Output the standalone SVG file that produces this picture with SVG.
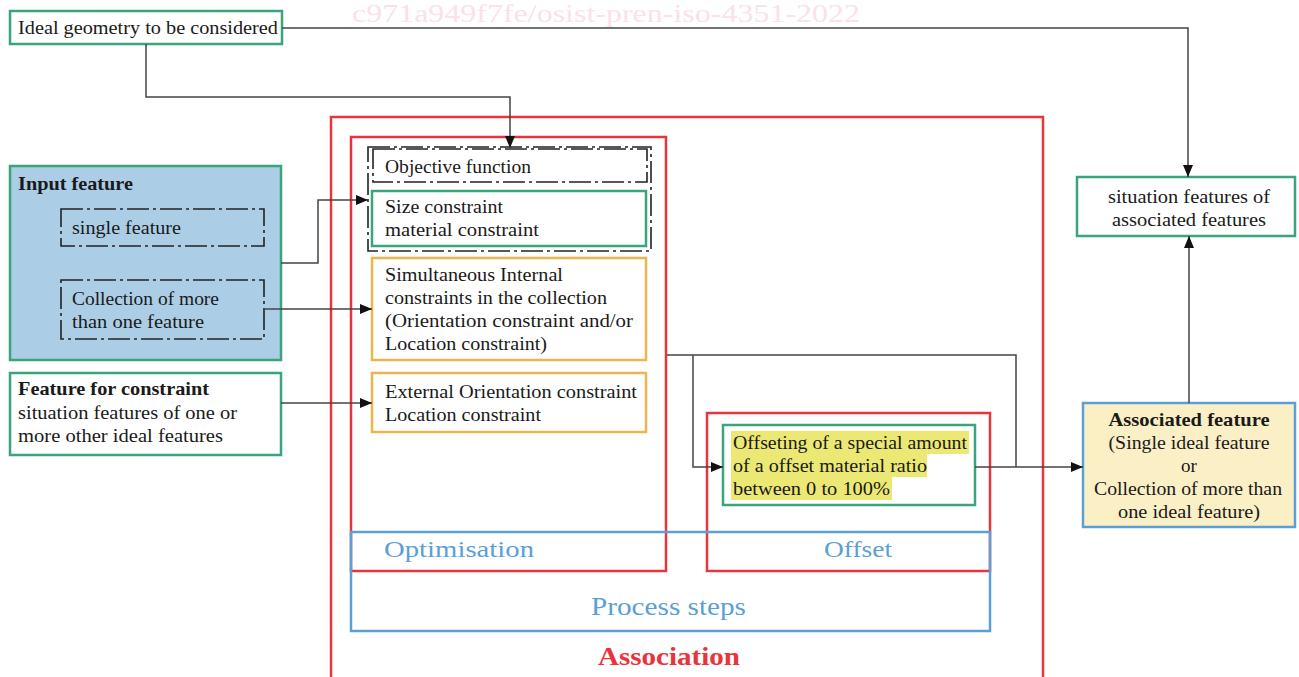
<svg xmlns="http://www.w3.org/2000/svg" width="1299" height="677" viewBox="0 0 1299 677">
<defs>
<marker id="arr" viewBox="0 0 12 10" refX="12" refY="5" markerWidth="12" markerHeight="10" markerUnits="userSpaceOnUse" orient="auto">
<path d="M0,0 L12,5 L0,10 Z" fill="#111"/>
</marker>
</defs>
<style>
text{font-family:"Liberation Serif","Times New Roman",serif;font-size:19px;fill:#1a1a1a}
.b{font-weight:bold}
.g{fill:#fff;stroke:#3aa57a;stroke-width:2.5}
.o{fill:#fff;stroke:#ebb54f;stroke-width:2.5}
.r{fill:none;stroke:#e8343a;stroke-width:2.5}
.bl{fill:none;stroke:#5b9fd6;stroke-width:2.5}
.dd{fill:none;stroke:#222;stroke-width:1.6;stroke-dasharray:22 4 3 4}
.c{fill:none;stroke:#444;stroke-width:1.5}
.blt{fill:#5b9fd6}
.wm{fill:#fbe1e8;font-size:26px}
.hl{fill:#ebe873}
</style>
<text class="wm" x="352" y="22" textLength="508" lengthAdjust="spacingAndGlyphs">c971a949f7fe/osist-pren-iso-4351-2022</text>

<g id="association">
<rect class="r" x="331" y="117" width="712" height="580"/>
<text x="669" y="665" text-anchor="middle" class="b" style="fill:#e8343a;font-size:26px" textLength="142" lengthAdjust="spacingAndGlyphs">Association</text>
</g>

<g id="optimisation">
<rect class="r" x="351" y="137" width="315" height="434"/>
</g>
<g id="offset">
<rect class="r" x="707" y="413" width="283" height="158"/>
</g>
<g id="process-steps">
<rect class="bl" x="351" y="532" width="639" height="99"/>
<text class="blt" x="384" y="557" style="font-size:24px" textLength="150" lengthAdjust="spacingAndGlyphs">Optimisation</text>
<text class="blt" x="824" y="557" style="font-size:24px" textLength="68" lengthAdjust="spacingAndGlyphs">Offset</text>
<text class="blt" x="591" y="615" style="font-size:25px" textLength="155" lengthAdjust="spacingAndGlyphs">Process steps</text>
</g>

<g id="ideal-geometry">
<rect class="g" x="10" y="11" width="272" height="33"/>
<text x="18" y="34" textLength="260" lengthAdjust="spacingAndGlyphs">Ideal geometry to be considered</text>
</g>

<g id="input-feature">
<rect class="g" x="10" y="166" width="271" height="194" style="fill:#abcde6"/>
<text x="18" y="190" class="b" textLength="115" lengthAdjust="spacingAndGlyphs">Input feature</text>
</g>
<g id="single-feature">
<rect class="dd" x="61" y="209" width="203" height="37"/>
<text x="72" y="234" textLength="109" lengthAdjust="spacingAndGlyphs">single feature</text>
</g>
<g id="collection-feature">
<rect class="dd" x="61" y="280" width="203" height="59"/>
<text x="72" y="305" textLength="147" lengthAdjust="spacingAndGlyphs">Collection of more</text>
<text x="72" y="328" textLength="132" lengthAdjust="spacingAndGlyphs">than one feature</text>
</g>

<g id="feature-for-constraint">
<rect class="g" x="10" y="373" width="271" height="82"/>
<text x="18" y="395" class="b" textLength="191" lengthAdjust="spacingAndGlyphs">Feature for constraint</text>
<text x="18" y="419" textLength="219" lengthAdjust="spacingAndGlyphs">situation features of one or</text>
<text x="18" y="442" textLength="205" lengthAdjust="spacingAndGlyphs">more other ideal features</text>
</g>

<g id="objective-group">
<rect class="dd" x="368" y="147" width="283" height="104"/>
</g>
<g id="objective-function">
<rect class="dd" x="373" y="149" width="274" height="33"/>
<text x="385" y="173" textLength="146" lengthAdjust="spacingAndGlyphs">Objective function</text>
</g>
<g id="size-constraint">
<rect class="g" x="372" y="191" width="274" height="55"/>
<text x="385" y="213" textLength="118" lengthAdjust="spacingAndGlyphs">Size constraint</text>
<text x="385" y="236" textLength="154" lengthAdjust="spacingAndGlyphs">material constraint</text>
</g>

<g id="internal-constraints">
<rect class="o" x="372" y="258" width="274" height="102"/>
<text x="385" y="281" textLength="178" lengthAdjust="spacingAndGlyphs">Simultaneous Internal</text>
<text x="385" y="304" textLength="222" lengthAdjust="spacingAndGlyphs">constraints in the collection</text>
<text x="385" y="327" textLength="248" lengthAdjust="spacingAndGlyphs">(Orientation constraint and/or</text>
<text x="385" y="350" textLength="162" lengthAdjust="spacingAndGlyphs">Location constraint)</text>
</g>

<g id="external-constraints">
<rect class="o" x="372" y="373" width="274" height="59"/>
<text x="385" y="398" textLength="252" lengthAdjust="spacingAndGlyphs">External Orientation constraint</text>
<text x="385" y="421" textLength="156" lengthAdjust="spacingAndGlyphs">Location constraint</text>
</g>

<g id="offsetting">
<rect class="g" x="723" y="425" width="252" height="80"/>
<rect class="hl" x="731" y="431" width="238" height="23"/>
<rect class="hl" x="731" y="454" width="196" height="23"/>
<rect class="hl" x="731" y="477" width="161" height="23"/>
<text x="733" y="449" textLength="234" lengthAdjust="spacingAndGlyphs">Offseting of a special amount</text>
<text x="733" y="472" textLength="194" lengthAdjust="spacingAndGlyphs">of a offset material ratio</text>
<text x="733" y="495" textLength="157" lengthAdjust="spacingAndGlyphs">between 0 to 100%</text>
</g>

<g id="associated-feature">
<rect x="1083" y="403" width="212" height="124" style="fill:#fbefc6;stroke:#5b9fd6;stroke-width:2.5"/>
<text x="1189" y="426" text-anchor="middle" class="b" textLength="161" lengthAdjust="spacingAndGlyphs">Associated feature</text>
<text x="1189" y="449" text-anchor="middle" textLength="161" lengthAdjust="spacingAndGlyphs">(Single ideal feature</text>
<text x="1189" y="472" text-anchor="middle">or</text>
<text x="1188" y="495" text-anchor="middle" textLength="188" lengthAdjust="spacingAndGlyphs">Collection of more than</text>
<text x="1189" y="518" text-anchor="middle" textLength="142" lengthAdjust="spacingAndGlyphs">one ideal feature)</text>
</g>

<g id="situation-features">
<rect class="g" x="1077" y="177" width="218" height="59"/>
<text x="1189" y="203" text-anchor="middle" textLength="162" lengthAdjust="spacingAndGlyphs">situation features of</text>
<text x="1189" y="226" text-anchor="middle" textLength="154" lengthAdjust="spacingAndGlyphs">associated features</text>
</g>

<g id="connectors">
<polyline class="c" points="282,28 1188,28 1188,177" marker-end="url(#arr)"/>
<polyline class="c" points="146,44 146,97 510,97 510,148" marker-end="url(#arr)"/>
<polyline class="c" points="281,263 318,263 318,200 368,200" marker-end="url(#arr)"/>
<polyline class="c" points="264,309 372,309" marker-end="url(#arr)"/>
<polyline class="c" points="281,403 372,403" marker-end="url(#arr)"/>
<polyline class="c" points="667,355 1016,355 1016,467"/>
<polyline class="c" points="693,355 693,467 723,467" marker-end="url(#arr)"/>
<polyline class="c" points="975,467 1083,467" marker-end="url(#arr)"/>
<polyline class="c" points="1189,403 1189,236" marker-end="url(#arr)"/>
</g>
</svg>
